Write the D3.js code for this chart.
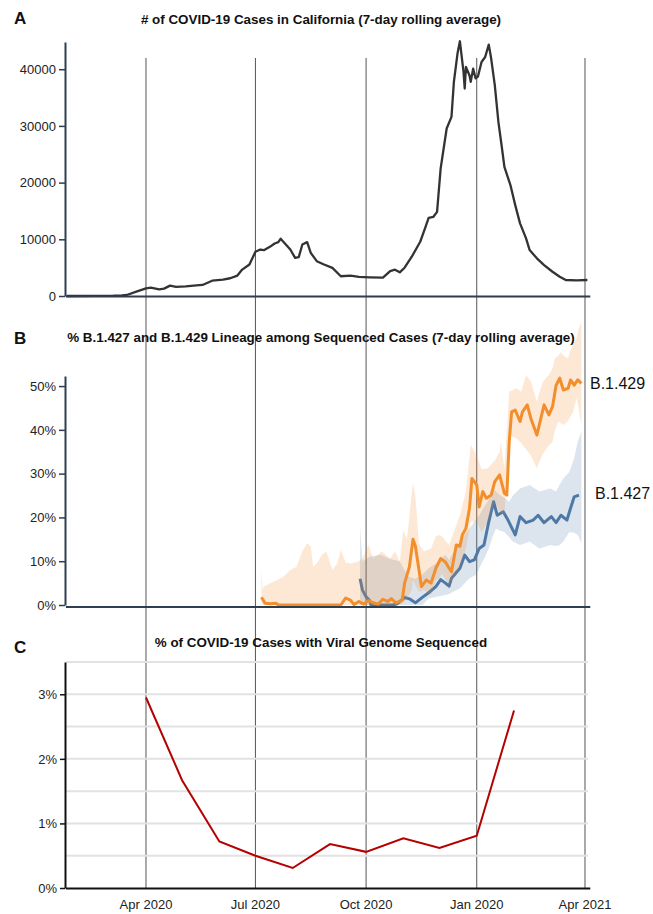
<!DOCTYPE html>
<html><head><meta charset="utf-8">
<script src="https://cdn.jsdelivr.net/npm/d3@7"></script>
<style>
body{margin:0;background:#fff;}
text{font-family:"Liberation Sans",Arial,Helvetica,sans-serif;}
</style></head><body>
<svg id="chart" width="653" height="914"></svg>
<script>
// ---------- data ----------
const gridDates = ["2020-04-01","2020-07-01","2020-10-01","2021-01-01","2021-04-01"];
const gridLabels = ["Apr 2020","Jul 2020","Oct 2020","Jan 2020","Apr 2021"];
const panelLetters = ["A","B","C"];
const panelTitles = [
  "# of COVID-19 Cases in California (7-day rolling average)",
  "% B.1.427 and B.1.429 Lineage among Sequenced Cases (7-day rolling average)",
  "% of COVID-19 Cases with Viral Genome Sequenced"
];
const casesTicks = [0,10000,20000,30000,40000];
const lineageTicks = [0,10,20,30,40,50];
const seqTicks = [0,1,2,3];
const seqGrid = [0.5,1,1.5,2,2.5,3,3.5];

const casesSeries = [["2020-01-26",0],["2020-02-20",10],["2020-03-05",40],["2020-03-12",90],["2020-03-16",180],["2020-03-24",770],["2020-04-01",1360],["2020-04-05",1475],["2020-04-12",1180],["2020-04-16",1300],["2020-04-21",1830],["2020-04-26",1600],["2020-05-04",1710],["2020-05-13",1890],["2020-05-18",1950],["2020-05-26",2700],["2020-06-04",2890],["2020-06-10",3130],["2020-06-16",3600],["2020-06-20",4660],["2020-06-26",5550],["2020-07-01",7800],["2020-07-05",8200],["2020-07-08",8080],["2020-07-13",8670],["2020-07-17",9260],["2020-07-20",9500],["2020-07-22",10090],["2020-07-24",9620],["2020-07-30",8200],["2020-08-03",6730],["2020-08-06",6840],["2020-08-09",9090],["2020-08-13",9500],["2020-08-16",7610],["2020-08-21",6140],["2020-08-27",5550],["2020-09-03",4960],["2020-09-10",3480],["2020-09-18",3600],["2020-09-25",3360],["2020-10-04",3290],["2020-10-15",3240],["2020-10-21",4400],["2020-10-25",4640],["2020-10-29",4170],["2020-11-02",4990],["2020-11-08",6930],["2020-11-15",9570],["2020-11-19",11920],["2020-11-22",13800],["2020-11-26",13970],["2020-11-29",14850],["2020-12-02",22500],["2020-12-07",29550],["2020-12-11",31600],["2020-12-13",37760],["2020-12-16",42760],["2020-12-18",44930],["2020-12-21",39520],["2020-12-22",36600],["2020-12-23",40400],["2020-12-26",38900],["2020-12-27",37760],["2020-12-29",40100],["2020-12-31",38400],["2021-01-02",38700],["2021-01-05",41280],["2021-01-08",42160],["2021-01-11",44340],["2021-01-13",41880],["2021-01-16",37180],["2021-01-19",30710],["2021-01-22",26020],["2021-01-24",22790],["2021-01-29",19560],["2021-02-02",16030],["2021-02-06",12810],["2021-02-11",10160],["2021-02-14",8100],["2021-02-20",6640],["2021-02-26",5460],["2021-03-05",4280],["2021-03-11",3400],["2021-03-16",2820],["2021-03-25",2760],["2021-04-03",2820]];

const b429Line = [["2020-07-06",1.75],["2020-07-09",0.4],["2020-07-14",0.3],["2020-07-18",0.4],["2020-07-20",0],["2020-09-10",0],["2020-09-14",1.6],["2020-09-18",1.1],["2020-09-21",0.1],["2020-09-25",0.8],["2020-09-29",0.2],["2020-10-03",1.0],["2020-10-07",0.5],["2020-10-11",0.2],["2020-10-15",1.3],["2020-10-19",0.8],["2020-10-22",1.45],["2020-10-26",0.5],["2020-10-31",1.1],["2020-11-02",5.0],["2020-11-06",8.7],["2020-11-09",15.0],["2020-11-11",13.4],["2020-11-14",8.0],["2020-11-16",4.2],["2020-11-20",5.7],["2020-11-24",5.0],["2020-11-28",8.4],["2020-12-02",10.6],["2020-12-06",9.8],["2020-12-09",8.4],["2020-12-11",7.6],["2020-12-15",13.7],["2020-12-18",13.4],["2020-12-20",16.0],["2020-12-23",17.5],["2020-12-26",22.1],["2020-12-28",28.9],["2021-01-01",27.4],["2021-01-03",22.4],["2021-01-06",25.9],["2021-01-09",24.4],["2021-01-13",25.1],["2021-01-16",28.2],["2021-01-20",29.7],["2021-01-24",25.5],["2021-01-26",25.1],["2021-01-28",37.3],["2021-01-30",44.1],["2021-02-02",44.5],["2021-02-06",41.9],["2021-02-08",44.1],["2021-02-12",45.7],["2021-02-15",42.6],["2021-02-20",38.8],["2021-02-24",43.4],["2021-02-26",45.7],["2021-03-02",43.4],["2021-03-05",45.3],["2021-03-08",50.2],["2021-03-11",51.8],["2021-03-14",49.1],["2021-03-18",49.5],["2021-03-20",51.4],["2021-03-23",50.2],["2021-03-26",51.4],["2021-03-29",50.6]];

const b427Line = [["2020-09-26",6.0],["2020-09-28",3.4],["2020-10-01",1.9],["2020-10-04",1.0],["2020-10-05",0],["2020-10-23",0],["2020-10-27",0.3],["2020-11-02",1.75],["2020-11-06",1.4],["2020-11-11",0.5],["2020-11-17",1.8],["2020-11-22",2.8],["2020-11-28",4.2],["2020-12-02",5.8],["2020-12-06",5.0],["2020-12-09",4.3],["2020-12-11",6.1],["2020-12-18",8.4],["2020-12-22",11.4],["2020-12-26",9.9],["2020-12-30",10.3],["2021-01-03",12.9],["2021-01-07",13.7],["2021-01-11",19.0],["2021-01-15",23.6],["2021-01-18",20.5],["2021-01-23",21.3],["2021-01-27",19.4],["2021-02-02",16.0],["2021-02-06",20.2],["2021-02-11",18.8],["2021-02-17",19.4],["2021-02-21",20.5],["2021-02-26",18.8],["2021-03-04",20.2],["2021-03-08",18.8],["2021-03-12",20.5],["2021-03-17",19.4],["2021-03-20",22.1],["2021-03-23",24.7],["2021-03-27",25.1]];

// [date, lower, upper]
const b429Band = [["2020-07-06",0,8.4],["2020-07-07",0,3.5],["2020-07-08",0,4.2],["2020-07-19",0,5.7],["2020-07-24",0,6.4],["2020-07-30",0,8.0],["2020-08-04",0,8.7],["2020-08-09",0,12.2],["2020-08-13",0,14.1],["2020-08-16",0,13.4],["2020-08-18",0,8.7],["2020-08-22",0,9.9],["2020-08-25",0,11.4],["2020-08-29",0,12.2],["2020-09-03",0,8.0],["2020-09-07",0,9.5],["2020-09-10",0,12.6],["2020-09-14",0,9.7],["2020-09-18",0,9.5],["2020-09-24",0,9.9],["2020-09-28",0,10.6],["2020-10-03",0,13.7],["2020-10-07",0,10.6],["2020-10-14",0,12.2],["2020-10-21",0,10.6],["2020-10-25",0,12.2],["2020-10-29",0,9.9],["2020-11-01",0.5,17.1],["2020-11-04",1.5,15.0],["2020-11-08",3.4,25.5],["2020-11-09",5.7,27.8],["2020-11-11",4.5,24.8],["2020-11-14",3.0,14.0],["2020-11-18",3.4,12.2],["2020-11-24",2.3,12.9],["2020-11-28",5.7,15.7],["2020-12-01",6.1,16.0],["2020-12-03",7.2,15.7],["2020-12-09",4.6,13.7],["2020-12-18",8.4,20.5],["2020-12-23",12.9,25.9],["2020-12-27",19.0,36.5],["2021-01-01",19.0,34.2],["2021-01-05",16.7,31.0],["2021-01-10",19.0,31.2],["2021-01-16",23.6,33.0],["2021-01-20",21.3,35.0],["2021-01-21",21.0,37.3],["2021-01-24",20.5,31.2],["2021-01-28",38.8,48.7],["2021-02-03",38.0,49.5],["2021-02-07",37.0,48.7],["2021-02-11",35.5,52.5],["2021-02-15",34.2,51.0],["2021-02-20",31.2,46.4],["2021-02-22",32.7,48.5],["2021-02-25",34.5,51.0],["2021-02-28",35.7,52.0],["2021-03-02",36.5,52.5],["2021-03-05",37.3,54.0],["2021-03-07",40.0,56.3],["2021-03-10",41.9,57.0],["2021-03-12",41.5,57.8],["2021-03-14",41.1,57.0],["2021-03-18",42.0,56.3],["2021-03-19",42.6,57.5],["2021-03-22",44.0,59.4],["2021-03-25",47.2,61.0],["2021-03-26",46.0,62.4],["2021-03-29",41.1,64.7]];

const b427Band = [["2020-09-26",0,17.9],["2020-09-28",0,10.0],["2020-10-04",0,11.0],["2020-10-13",0,11.5],["2020-10-21",0,10.5],["2020-10-29",0,10.0],["2020-11-02",0,8.0],["2020-11-06",0,6.4],["2020-11-11",0,6.0],["2020-11-17",0,7.0],["2020-11-22",1.5,8.4],["2020-11-28",1.8,9.5],["2020-12-06",2.3,11.4],["2020-12-09",2.5,10.3],["2020-12-18",3.8,14.5],["2020-12-26",6.1,17.5],["2021-01-01",7.0,19.8],["2021-01-03",8.4,20.5],["2021-01-08",11.0,22.8],["2021-01-11",12.9,24.0],["2021-01-14",15.5,26.6],["2021-01-17",17.5,26.0],["2021-01-20",17.0,25.1],["2021-01-24",16.7,24.5],["2021-01-28",15.5,23.6],["2021-01-31",14.5,25.0],["2021-02-06",13.7,26.6],["2021-02-14",14.5,27.4],["2021-02-22",12.9,25.9],["2021-03-03",13.7,26.6],["2021-03-08",13.5,25.9],["2021-03-11",13.7,27.5],["2021-03-14",14.5,28.9],["2021-03-19",16.7,30.4],["2021-03-23",16.5,33.5],["2021-03-26",16.0,37.3],["2021-03-29",14.1,39.6]];

const seqDates = ["2020-04-01","2020-05-01","2020-06-01","2020-07-01","2020-08-01","2020-09-01","2020-10-01","2020-11-01","2020-12-01","2021-01-01","2021-02-01"];
const seqValues = [2.95,1.67,0.72,0.5,0.31,0.68,0.56,0.77,0.62,0.81,2.75];

const lineageNames = ["B.1.429","B.1.427"];
const lineageColors = ["#f28e2b","#4e79a7"];

// ---------- drawing ----------
const parse = d3.utcParse("%Y-%m-%d");
const svg = d3.select("#chart");
const x = d3.scaleUtc().domain([parse("2020-01-25"), parse("2021-04-05")]).range([65.4, 589.8]);
const navy = "#2c3e50";

// vertical month lines spanning all panels
svg.append("g").selectAll("line").data(gridDates).join("line")
  .attr("x1", d => x(parse(d))).attr("x2", d => x(parse(d)))
  .attr("y1", 58).attr("y2", 888)
  .attr("stroke", "#555").attr("stroke-width", 1);

// panel letters & titles
const letterY = [24, 344, 653];
const titleY = [24, 342, 647];
svg.append("g").selectAll("text").data(panelLetters).join("text")
  .attr("x", 14).attr("y", (d,i) => letterY[i])
  .attr("font-size", 17).attr("font-weight", "bold").attr("fill", "#111").text(d => d);
svg.append("g").selectAll("text").data(panelTitles).join("text")
  .attr("x", 321).attr("y", (d,i) => titleY[i]).attr("text-anchor", "middle")
  .attr("font-size", 13.4).attr("font-weight", "bold").attr("fill", "#111").text(d => d);

function styleAxis(g, color) {
  g.select(".domain").attr("stroke", color).attr("stroke-width", 2);
  g.selectAll(".tick line").attr("stroke", color).attr("stroke-width", 1.5);
  g.selectAll(".tick text").attr("font-size", 13).attr("fill", "#222")
    .attr("font-family", '"Liberation Sans",Arial,sans-serif');
}

// ----- Panel A -----
const yA = d3.scaleLinear().domain([0, 44800]).range([296, 42]);
svg.append("path").datum(casesSeries)
  .attr("fill", "none").attr("stroke", "#333").attr("stroke-width", 2.3).attr("stroke-linejoin", "round")
  .attr("d", d3.line().x(d => x(parse(d[0]))).y(d => yA(d[1])));
svg.append("g").attr("transform", "translate(0,296)")
  .call(d3.axisBottom(x).tickValues([]).tickSizeOuter(0))
  .call(g => styleAxis(g, navy));
svg.append("g").attr("transform", "translate(65,0)")
  .call(d3.axisLeft(yA).tickValues(casesTicks).tickSize(6).tickSizeOuter(0).tickFormat(d3.format("d")))
  .call(g => styleAxis(g, navy));

// ----- Panel B -----
const yB = d3.scaleLinear().domain([0, 52.3]).range([605, 376]);
const area = d3.area().x(d => x(parse(d[0]))).y0(d => yB(d[1])).y1(d => yB(d[2]));
const lineB = d3.line().x(d => x(parse(d[0]))).y(d => yB(d[1]));
const bands = [b427Band, b429Band];
const lines = [b427Line, b429Line];
const cols = [lineageColors[1], lineageColors[0]];
[0,1].forEach(i => {
  svg.append("path").datum(bands[i]).attr("fill", cols[i]).attr("fill-opacity", 0.2).attr("d", area);
  svg.append("path").datum(lines[i]).attr("fill", "none").attr("stroke", cols[i])
    .attr("stroke-width", 3).attr("stroke-linejoin", "round").attr("d", lineB);
});
svg.append("g").attr("transform", "translate(0,606.5)")
  .call(d3.axisBottom(x).tickValues([]).tickSizeOuter(0))
  .call(g => styleAxis(g, navy));
svg.append("g").attr("transform", "translate(65,0)")
  .call(d3.axisLeft(yB).tickValues(lineageTicks).tickSize(6).tickSizeOuter(0).tickFormat(d => d + "%"))
  .call(g => styleAxis(g, navy));
// end labels
const labelPos = [[590, 389], [595, 499]];
svg.append("g").selectAll("text").data(lineageNames).join("text")
  .attr("x", (d,i) => labelPos[i][0]).attr("y", (d,i) => labelPos[i][1])
  .attr("font-size", 16).attr("fill", "#111").text(d => d);

// ----- Panel C -----
const yC = d3.scaleLinear().domain([0, 3.5]).range([888, 662]);
svg.append("g").selectAll("line").data(seqGrid).join("line")
  .attr("x1", 66).attr("x2", 588).attr("y1", d => yC(d)).attr("y2", d => yC(d))
  .attr("stroke", "#e2e2e2").attr("stroke-width", 2);
svg.append("path").datum(seqDates.map((d,i) => [d, seqValues[i]]))
  .attr("fill", "none").attr("stroke", "#b50000").attr("stroke-width", 2)
  .attr("d", d3.line().x(d => x(parse(d[0]))).y(d => yC(d[1])));
svg.append("g").attr("transform", "translate(0,888)")
  .call(d3.axisBottom(x).tickValues([]).tickSizeOuter(0))
  .call(g => styleAxis(g, "#111"));
svg.append("g").attr("transform", "translate(65,0)")
  .call(d3.axisLeft(yC).tickValues(seqTicks).tickSize(5).tickSizeOuter(0).tickFormat(d => d + "%"))
  .call(g => styleAxis(g, "#111"));
svg.append("g").selectAll("text").data(gridDates).join("text")
  .attr("x", d => x(parse(d))).attr("y", 909).attr("text-anchor", "middle")
  .attr("font-size", 13).attr("fill", "#222").text((d,i) => gridLabels[i]);
</script>
</body></html>
